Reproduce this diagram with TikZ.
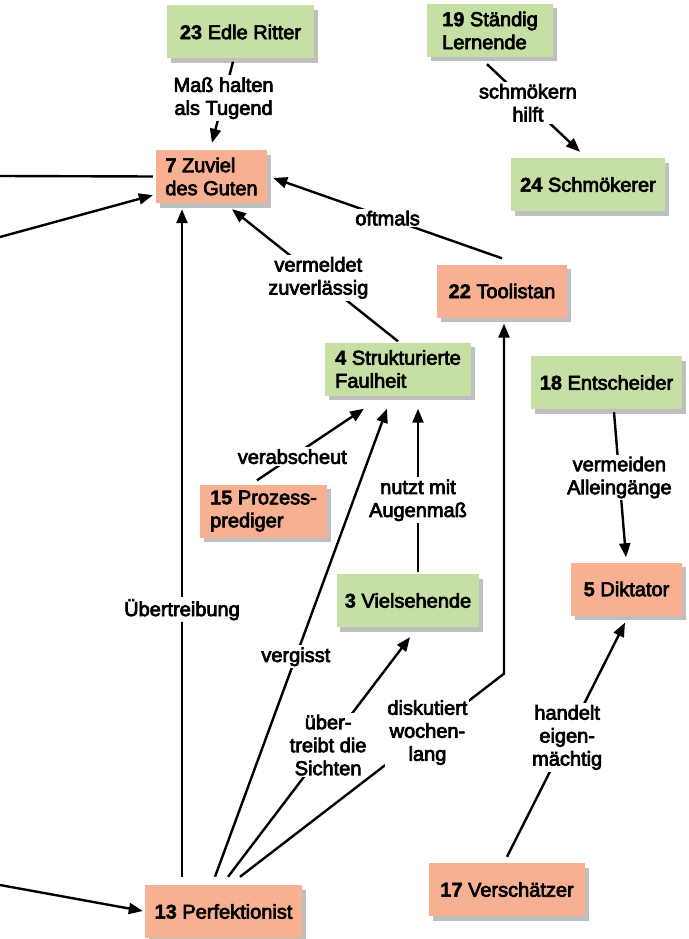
\documentclass[tikz,border=0pt]{standalone}
\usepackage{fontspec}
\newfontfamily\medf{Liberation Sans}[FakeBold=3.5]
\newfontfamily\boldf{Liberation Sans Bold}[FakeBold=2]
\usetikzlibrary{arrows.meta,shadows,calc}
\definecolor{gbox}{HTML}{C5DFA4}
\definecolor{sbox}{HTML}{F8B092}
\tikzset{
  boxbase/.style={rectangle, minimum height=53pt, align=left, inner xsep=8pt,
    font=\medf\fontsize{20}{23}\selectfont,
    drop shadow={shadow xshift=3.5pt, shadow yshift=-4.5pt, fill=black, opacity=0.25}},
  gnode/.style={boxbase, fill=gbox},
  snode/.style={boxbase, fill=sbox},
  lbl/.style={fill=white, inner sep=2pt, align=center, font=\medf\fontsize{20}{23}\selectfont},
  conn/.style={line width=2.4pt},
  arr/.style={conn, -{Triangle[length=14pt,width=11pt]}}
}
\begin{document}
\begin{tikzpicture}[x=1pt,y=-1pt]
\useasboundingbox (0,0) rectangle (688,939);
% nodes
\node[gnode, minimum width=147pt] (n23) at (240.5,32) {{\boldf 23} Edle Ritter};
\node[snode, minimum width=111pt] (n7) at (211.5,176.5) {{\boldf 7} Zuviel\\des Guten};
\node[gnode, minimum width=126pt] (n19) at (490,30.5) {{\boldf 19} Ständig\\Lernende};
\node[gnode, minimum width=154pt] (n24) at (588,184.5) {{\boldf 24} Schmökerer};
\node[snode, minimum width=130pt] (n22) at (502,291) {{\boldf 22} Toolistan};
\node[gnode, minimum width=146pt] (n4) at (398,369) {{\boldf 4} Strukturierte\\Faulheit};
\node[snode, minimum width=127pt] (n15) at (263.5,511) {{\boldf 15} Prozess-\\prediger};
\node[gnode, minimum width=151pt] (n18) at (606.5,382.5) {{\boldf 18} Entscheider};
\node[snode, minimum width=111pt] (n5) at (626.5,589) {{\boldf 5} Diktator};
\node[gnode, minimum width=132pt] (n3) at (408,600.5) {{\boldf 3} Vielsehende};
\node[snode, minimum width=156pt] (n17) at (507,889.5) {{\boldf 17} Verschätzer};
\node[snode, minimum width=157pt] (n13) at (223.5,911.5) {{\boldf 13} Perfektionist};
% free ends
\coordinate (L1) at (0,176);
\coordinate (L2) at (0,237);
\coordinate (L3) at (0,885);
% connectors
\draw[arr] ($(n23.south)+(-7.5,3)$) -- node[lbl,pos=0.45]{Maß halten\\als Tugend} ($(n7.north)+(0.5,-7)$);
\draw[conn] (L1) -- ($(n7.west)+(-3,0)$);
\draw[arr] (L2) -- ($(n7.south west)+(-3,-8)$);
\draw[arr] ($(n22.north)+(0,-6)$) -- node[lbl,pos=0.5]{oftmals} ($(n7.east)+(6,1.5)$);
\draw[arr] ($(n4.north)+(0,-1)$) -- node[lbl,pos=0.48]{vermeldet\\zuverlässig} ($(n7.south)+(20.5,6)$);
\draw[arr] ($(n13.north)+(-41.5,-8)$) -- node[lbl,pos=0.4]{Übertreibung} ($(n7.south)+(-29.5,6)$);
\draw[arr] ($(n19.south)+(-3,7)$) -- node[lbl,pos=0.44]{schmökern\\hilft} ($(n24.north)+(-8,-6)$);
\draw[arr] ($(n15.north)+(-6.5,-4)$) -- node[lbl,pos=0.33]{verabscheut} ($(n4.south)+(-34,13)$);
\draw[arr] ($(n3.north)+(10,-1.5)$) -- node[lbl,pos=0.44]{nutzt mit\\Augenmaß} ($(n4.south)+(20,13)$);
\draw[arr] ($(n13.north)+(-8.5,-8)$) -- node[lbl,pos=0.47]{vergisst} ($(n4.south)+(-11,13)$);
\draw[arr] ($(n13.north)+(4.5,-8)$) -- node[lbl,pos=0.55]{über-\\treibt die\\Sichten} ($(n3.south)+(2,10)$);
\draw[arr] ($(n13.north)+(16.5,-8)$) -- node[lbl,pos=0.71]{diskutiert\\wochen-\\lang} ($(n22.south)+(2,356)$) -- ($(n22.south)+(2,6)$);
\draw[arr] ($(n18.south)+(7.5,3)$) -- node[lbl,pos=0.45]{vermeiden\\Alleingänge} ($(n5.north)+(-0.5,-5)$);
\draw[arr] ($(n17.north)+(0,-6)$) -- node[lbl,pos=0.51]{handelt\\eigen-\\mächtig} ($(n5.south)+(-1.5,7)$);
\draw[arr] (L3) -- ($(n13.west)+(-2,-0.5)$);
\end{tikzpicture}
\end{document}
